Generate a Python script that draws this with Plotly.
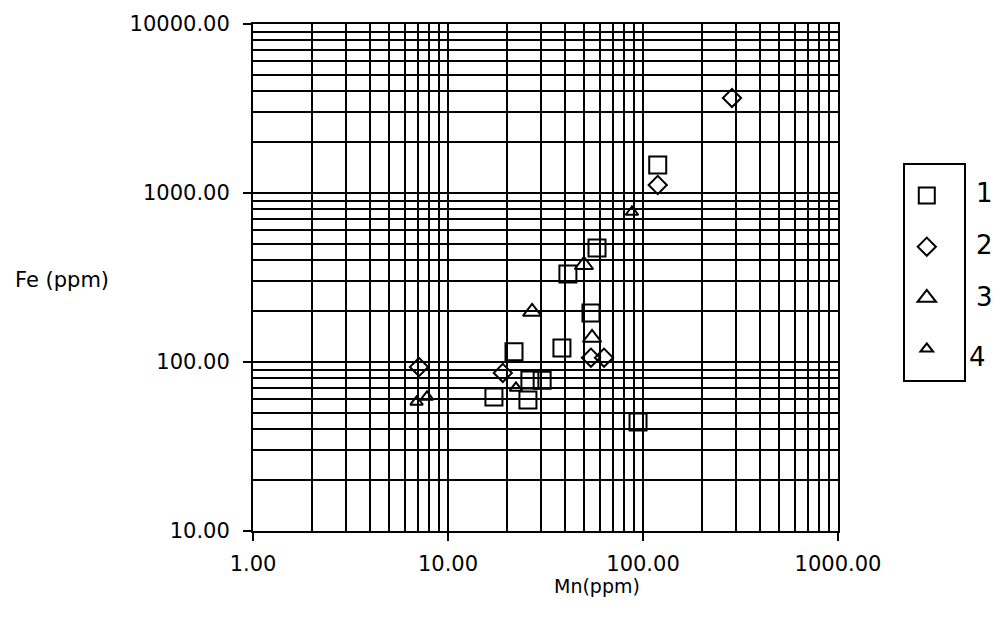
import plotly.graph_objects as go

# series 1 - squares
mn_1 = [119, 58.1, 41.2, 54.1, 21.8, 38.4, 26.3, 30.4, 17.2, 25.7, 94.3]
fe_1 = [1465, 473, 332, 195, 115, 121, 78.2, 78, 62.1, 59.6, 44.2]
# series 2 - diamonds
mn_2 = [286, 119, 54.1, 63.1, 7.1, 19.1]
fe_2 = [3650, 1115, 106, 106, 93.4, 86.1]
# series 3 - big triangles
mn_3 = [49.8, 27.0, 54.8]
fe_3 = [375, 198, 139]
# series 4 - small triangles
mn_4 = [87.8, 22.3, 7.8, 6.9]
fe_4 = [772, 70.2, 62.1, 58.0]

x_ticks = [1, 10, 100, 1000]
x_labels = ["1.00", "10.00", "100.00", "1000.00"]
y_ticks = [10, 100, 1000, 10000]
y_labels = ["10.00", "100.00", "1000.00", "10000.00"]
minor_x = [m * d for d in [1, 10, 100] for m in range(2, 10)]
minor_y = [m * d for d in [10, 100, 1000] for m in range(2, 10)]
legend_labels = ["1", "2", "3", "4"]

series = [
    (mn_1, fe_1, "square-open", 17),
    (mn_2, fe_2, "diamond-open", 14),
    (mn_3, fe_3, "triangle-up-open", 16),
    (mn_4, fe_4, "triangle-up-open", 11),
]

font = dict(family="DejaVu Sans", size=21, color="black")

fig = go.Figure()
for x, y, sym, sz in series:
    fig.add_trace(go.Scatter(
        x=x, y=y, mode="markers", name="\u00a0",
        marker=dict(symbol=sym, size=sz, color="black", line=dict(color="black", width=2)),
    ))

axis_common = dict(
    type="log", showline=True, linecolor="black", linewidth=2, mirror=True,
    showgrid=True, gridcolor="black", gridwidth=2, zeroline=False,
    ticks="outside", ticklen=8, tickcolor="black", tickwidth=2,
    tickfont=font, automargin=False,
)

fig.update_xaxes(
    range=[0, 3], tickvals=x_ticks, ticktext=x_labels, ticklabelstandoff=5,
    minor=dict(tickvals=minor_x, showgrid=True, gridcolor="black", gridwidth=2, ticks=""),
    **axis_common,
)
fig.update_yaxes(
    range=[1, 4], tickvals=y_ticks, ticktext=y_labels, ticklabelstandoff=9,
    minor=dict(tickvals=minor_y, showgrid=True, gridcolor="black", gridwidth=2, ticks=""),
    **axis_common,
)

fig.add_annotation(text="Fe (ppm)", xref="paper", yref="paper", x=-0.3265, y=0.495,
                   xanchor="center", yanchor="middle", showarrow=False, font=font)
fig.add_annotation(text="Mn(ppm)", xref="paper", yref="paper", x=0.588, y=-0.108,
                   xanchor="center", yanchor="middle", showarrow=False,
                   font=dict(family="DejaVu Sans", size=19, color="black"))

num_pos = [(1.251, 0.667), (1.251, 0.564), (1.251, 0.4615), (1.238, 0.343)]
for lab, (px, py) in zip(legend_labels, num_pos):
    fig.add_annotation(text=lab, xref="paper", yref="paper", x=px, y=py,
                       xanchor="center", yanchor="middle", showarrow=False,
                       font=dict(family="DejaVu Sans", size=26, color="black"))

# page body has an 8px margin, so the figure is 8px smaller than the window
fig.update_layout(
    width=992, height=612,
    margin=dict(l=245, r=162, t=16, b=89),
    paper_bgcolor="white", plot_bgcolor="white",
    showlegend=True,
    legend=dict(xref="container", yref="container", x=0.902, y=0.7467,
                xanchor="left", yanchor="top",
                bordercolor="black", borderwidth=2, bgcolor="white",
                font=dict(size=37), itemwidth=34, tracegroupgap=0),
)

fig.write_html("out.html")
